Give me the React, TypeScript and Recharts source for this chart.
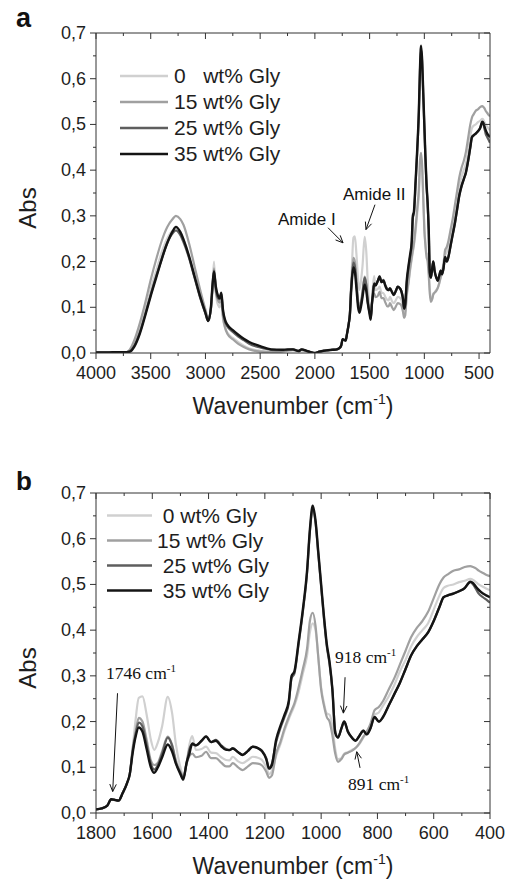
import React from "react";
import {
  LineChart,
  Line,
  XAxis,
  YAxis,
  ReferenceLine,
  ReferenceDot,
  Legend,
} from "recharts";

// FTIR spectra, absorbance vs wavenumber (cm-1)
const wavenumbers = [
  4000, 3900, 3800, 3720, 3690, 3650, 3600, 3550, 3500, 3450, 3400, 3350, 3300,
  3270, 3230, 3200, 3150, 3100, 3050, 3000, 2975, 2950, 2935, 2922, 2905, 2885,
  2870, 2855, 2840, 2820, 2800, 2750, 2700, 2650, 2600, 2500, 2400, 2300, 2250,
  2200, 2150, 2120, 2080, 2040, 2000, 1960, 1920, 1880, 1840, 1800, 1780, 1760,
  1746, 1735, 1720, 1705, 1690, 1680, 1670, 1660, 1648, 1635, 1620, 1605, 1593,
  1580, 1565, 1545, 1530, 1516, 1500, 1490, 1478, 1468, 1458, 1445, 1425, 1409,
  1391, 1374, 1355, 1338, 1326, 1314, 1295, 1279, 1260, 1243, 1225, 1210, 1195,
  1185, 1175, 1160, 1145, 1130, 1115, 1105, 1095, 1080, 1065, 1050, 1040, 1030,
  1020, 1010, 1000, 990, 980, 970, 960, 950, 940, 928, 918, 905, 891, 878, 865,
  850, 838, 825, 810, 795, 780, 760, 740, 720, 700, 680, 660, 640, 620, 600, 580,
  565, 550, 530, 510, 490, 470, 460, 450, 440, 425, 410, 400,
];

const gly0 = [
  0.001, 0.001, 0.001, 0.002, 0.006, 0.022, 0.055, 0.095, 0.14, 0.18, 0.22, 0.25, 0.268,
  0.272, 0.262, 0.248, 0.21, 0.168, 0.125, 0.088, 0.072, 0.1, 0.15, 0.2, 0.13, 0.105,
  0.1, 0.115, 0.075, 0.055, 0.045, 0.033, 0.024, 0.016, 0.01, 0.005, 0.003, 0.004, 0.006,
  0.007, 0.005, 0.007, 0.005, 0.002, 0, 0.003, 0.005, 0.006, 0.007, 0.008, 0.01, 0.016,
  0.03, 0.029, 0.027, 0.044, 0.065, 0.085, 0.14, 0.2, 0.252, 0.255, 0.215, 0.16, 0.138,
  0.155, 0.19, 0.254, 0.22, 0.15, 0.1, 0.082, 0.11, 0.15, 0.168, 0.138, 0.14, 0.145,
  0.132, 0.131, 0.122, 0.116, 0.115, 0.123, 0.113, 0.109, 0.116, 0.123, 0.121, 0.116, 0.1,
  0.085, 0.092, 0.125, 0.15, 0.18, 0.205, 0.22, 0.235, 0.265, 0.305, 0.345, 0.395, 0.415,
  0.4, 0.34, 0.275, 0.24, 0.218, 0.215, 0.19, 0.14, 0.118, 0.12, 0.13, 0.133, 0.138, 0.142, 0.15,
  0.165, 0.175, 0.19, 0.215, 0.22, 0.235, 0.255, 0.28, 0.31, 0.335, 0.365, 0.385, 0.4, 0.415, 0.445, 0.475,
  0.492, 0.497, 0.5, 0.505, 0.508, 0.512, 0.51, 0.505, 0.5, 0.495, 0.49, 0.487,
];

const gly15 = [
  0.001, 0.001, 0.001, 0.002, 0.008, 0.028, 0.065, 0.11, 0.16, 0.205, 0.245, 0.275, 0.293,
  0.3, 0.293, 0.28, 0.24, 0.19, 0.14, 0.095, 0.076, 0.095, 0.14, 0.185, 0.135, 0.115,
  0.11, 0.12, 0.08, 0.055, 0.042, 0.03, 0.02, 0.013, 0.008, 0.003, 0.002, 0.003, 0.005,
  0.006, 0.004, 0.006, 0.004, 0.002, 0, 0.003, 0.005, 0.006, 0.007, 0.008, 0.01, 0.016,
  0.03, 0.029, 0.027, 0.044, 0.065, 0.085, 0.14, 0.175, 0.208, 0.2, 0.16, 0.115, 0.105,
  0.11, 0.135, 0.167, 0.15, 0.115, 0.09, 0.08, 0.108, 0.125, 0.13, 0.122, 0.125, 0.134,
  0.12, 0.12, 0.11, 0.102, 0.102, 0.109, 0.1, 0.094, 0.102, 0.109, 0.108, 0.104, 0.09,
  0.077, 0.082, 0.13, 0.155, 0.185, 0.21, 0.225, 0.24, 0.275, 0.315, 0.36, 0.42, 0.438,
  0.41, 0.34, 0.27, 0.235, 0.21, 0.2, 0.17, 0.13, 0.112, 0.118, 0.128, 0.132, 0.136, 0.142, 0.152,
  0.167, 0.178, 0.195, 0.225, 0.232, 0.245, 0.27, 0.295, 0.325, 0.355, 0.385, 0.405, 0.42, 0.44, 0.47, 0.5,
  0.515, 0.522, 0.53, 0.533, 0.538, 0.54, 0.538, 0.535, 0.53, 0.525, 0.52, 0.518,
];

const gly25 = [
  0.001, 0.001, 0.001, 0.002, 0.004, 0.016, 0.045, 0.085, 0.128, 0.168, 0.205, 0.24, 0.262,
  0.268, 0.258, 0.242, 0.208, 0.165, 0.122, 0.086, 0.07, 0.098, 0.145, 0.18, 0.14, 0.12,
  0.118, 0.13, 0.09, 0.068, 0.058, 0.046, 0.036, 0.028, 0.02, 0.012, 0.007, 0.006, 0.007,
  0.008, 0.005, 0.008, 0.005, 0.002, 0, 0.003, 0.005, 0.006, 0.007, 0.008, 0.01, 0.016,
  0.03, 0.029, 0.027, 0.044, 0.065, 0.085, 0.135, 0.17, 0.198, 0.19, 0.15, 0.108, 0.095,
  0.105, 0.13, 0.165, 0.148, 0.11, 0.088, 0.075, 0.11, 0.14, 0.15, 0.148, 0.158, 0.168,
  0.155, 0.16, 0.148, 0.14, 0.137, 0.142, 0.133, 0.127, 0.136, 0.145, 0.142, 0.136, 0.12,
  0.098, 0.108, 0.155, 0.185, 0.21, 0.24, 0.295, 0.305, 0.37, 0.44, 0.525, 0.615, 0.665,
  0.635, 0.565, 0.495, 0.425, 0.365, 0.325, 0.27, 0.18, 0.165, 0.185, 0.2, 0.178, 0.165, 0.158, 0.168,
  0.18, 0.172, 0.185, 0.21, 0.2, 0.21, 0.235, 0.26, 0.285, 0.315, 0.345, 0.365, 0.38, 0.395, 0.42, 0.45,
  0.472, 0.476, 0.48, 0.485, 0.492, 0.505, 0.5, 0.49, 0.48, 0.472, 0.465, 0.46,
];

const gly35 = [
  0.001, 0.001, 0.002, 0.002, 0.003, 0.014, 0.042, 0.082, 0.125, 0.165, 0.205, 0.24, 0.266,
  0.276, 0.265, 0.248, 0.212, 0.168, 0.125, 0.088, 0.07, 0.1, 0.15, 0.178, 0.145, 0.125,
  0.12, 0.132, 0.095, 0.072, 0.062, 0.05, 0.04, 0.031, 0.024, 0.015, 0.008, 0.007, 0.008,
  0.008, 0.004, 0.008, 0.005, 0.002, 0, 0.003, 0.005, 0.006, 0.007, 0.008, 0.01, 0.016,
  0.03, 0.029, 0.027, 0.044, 0.065, 0.085, 0.13, 0.165, 0.187, 0.178, 0.14, 0.1, 0.088,
  0.1, 0.122, 0.15, 0.135, 0.108, 0.085, 0.073, 0.11, 0.13, 0.152, 0.148, 0.158, 0.167,
  0.155, 0.158, 0.146, 0.138, 0.138, 0.141, 0.133, 0.127, 0.136, 0.145, 0.142, 0.135, 0.118,
  0.097, 0.105, 0.16, 0.19, 0.215, 0.245, 0.3, 0.31, 0.375, 0.445, 0.53, 0.62, 0.672,
  0.64, 0.57, 0.5, 0.43, 0.37, 0.33, 0.27, 0.175, 0.165, 0.185, 0.2, 0.178, 0.165, 0.158, 0.168,
  0.18, 0.172, 0.185, 0.21, 0.2, 0.21, 0.235, 0.26, 0.285, 0.315, 0.345, 0.365, 0.38, 0.395, 0.42, 0.45,
  0.472, 0.476, 0.48, 0.485, 0.492, 0.506, 0.503, 0.495, 0.488, 0.48, 0.475, 0.472,
];

const seriesKeys = ["g0", "g15", "g25", "g35"];
const seriesColors = ["#d0d0d0", "#a0a0a0", "#5e5e5e", "#141414"];
const seriesWidths = [2.2, 2.2, 2.2, 2.4];
const legendNamesA = ["0   wt% Gly", "15 wt% Gly", "25 wt% Gly", "35 wt% Gly"];
const legendNamesB = [" 0 wt% Gly", "15 wt% Gly", " 25 wt% Gly", " 35 wt% Gly"];

const absMajor = [0, 0.1, 0.2, 0.3, 0.4, 0.5, 0.6, 0.7];
const absMinor = [0.05, 0.15, 0.25, 0.35, 0.45, 0.55, 0.65];
const wnMajorA = [4000, 3500, 3000, 2500, 2000, 1500, 1000, 500];
const wnMinorA = [3750, 3250, 2750, 2250, 1750, 1250, 750];
const wnMajorB = [1800, 1600, 1400, 1200, 1000, 800, 600, 400];
const wnMinorB = [1700, 1500, 1300, 1100, 900, 700, 500];

type Note = {
  text: string;
  sup?: string;
  serif?: boolean;
  at: [number, number];
  from: [number, number];
  to: [number, number];
};

const notesA: Note[] = [
  { text: "Amide I", at: [2337, 0.281], from: [1880, 0.274], to: [1743, 0.241] },
  { text: "Amide II", at: [1743, 0.335], from: [1451, 0.3245], to: [1533, 0.27] },
];

const notesB: Note[] = [
  { text: "1746 cm", sup: "-1", serif: true, at: [1764.5, 0.2926], from: [1723.6, 0.262], to: [1740.7, 0.047] },
  { text: "918 cm", sup: "-1", serif: true, at: [950.7, 0.3275], from: [915, 0.297], to: [921, 0.2185] },
  { text: "891 cm", sup: "-1", serif: true, at: [904.5, 0.0508], from: [861.8, 0.0987], to: [873.5, 0.134] },
];

const spectra = wavenumbers.map((wn, i) => ({
  wn,
  g0: gly0[i],
  g15: gly15[i],
  g25: gly25[i],
  g35: gly35[i],
}));

const sans = "'Liberation Sans', Arial, Helvetica, sans-serif";
const serif = "'Liberation Serif', 'Times New Roman', serif";
const axisColor = "#333";
const textColor = "#1e1e1e";

const fmtAbs = (v: number) => v.toFixed(1).replace(".", ",");

const makeTick =
  (side: "left" | "right" | "top" | "bottom", major: number[], label: boolean) =>
  (props: any) => {
    const { x, y, payload } = props;
    const v = payload.value;
    const isMajor = major.some((m) => Math.abs(m - v) < 1e-6);
    const len = isMajor ? 6 : 3;
    let line;
    if (side === "left") line = { x1: x - len, y1: y, x2: x, y2: y };
    else if (side === "right") line = { x1: x - len, y1: y, x2: x, y2: y };
    else if (side === "top") line = { x1: x, y1: y, x2: x, y2: y + len };
    else line = { x1: x, y1: y, x2: x, y2: y + len };
    return (
      <g>
        <line {...line} stroke={axisColor} strokeWidth={1} />
        {label && isMajor && side === "left" && (
          <text x={x - 10} y={y + 6} textAnchor="end" fontFamily={sans} fontSize={18} fill={textColor}>
            {fmtAbs(v)}
          </text>
        )}
        {label && isMajor && side === "bottom" && (
          <text x={x} y={y + 26} textAnchor="middle" fontFamily={sans} fontSize={18} fill={textColor}>
            {v}
          </text>
        )}
      </g>
    );
  };

const arrowShape = (p: any) => {
  const { x1, y1, x2, y2 } = p;
  if ([x1, y1, x2, y2].some((n) => typeof n !== "number")) return <g />;
  const a = Math.atan2(y2 - y1, x2 - x1);
  const h = 8;
  const w = 0.42;
  const l = `${x2 - h * Math.cos(a - w)},${y2 - h * Math.sin(a - w)}`;
  const r = `${x2 - h * Math.cos(a + w)},${y2 - h * Math.sin(a + w)}`;
  return (
    <g>
      <line x1={x1} y1={y1} x2={x2} y2={y2} stroke="#111" strokeWidth={1} />
      <polyline points={`${l} ${x2},${y2} ${r}`} fill="none" stroke="#111" strokeWidth={1} />
    </g>
  );
};

const noteText = (n: Note) => (p: any) => (
  <text
    x={p.cx}
    y={p.cy}
    fontFamily={n.serif ? serif : sans}
    fontSize={n.serif ? 17.5 : 17}
    fill="#111"
  >
    {n.text}
    {n.sup && (
      <tspan dy={-7} fontSize={11}>
        {n.sup}
      </tspan>
    )}
  </text>
);

const xTitle = (props: any) => {
  const vb = props.viewBox || {};
  const cx = vb.x + vb.width / 2;
  return (
    <text x={cx} y={vb.y + 61} textAnchor="middle" fontFamily={sans} fontSize={23} fill={textColor}>
      Wavenumber (cm
      <tspan dy={-10} fontSize={14}>-1</tspan>
      <tspan dy={10}>)</tspan>
    </text>
  );
};

const yTitle = (props: any) => {
  const vb = props.viewBox || {};
  const cy = vb.y + vb.height / 2 + 15;
  return (
    <text
      transform={`translate(36, ${cy}) rotate(-90)`}
      textAnchor="middle"
      fontFamily={sans}
      fontSize={24}
      fill={textColor}
    >
      Abs
    </text>
  );
};

const LegendBox = ({ names, gap, lineLen, textX }: { names: string[]; gap: number; lineLen: number; textX: number }) => (
  <svg width={180} height={names.length * gap + 4} style={{ display: "block", overflow: "visible" }}>
    {names.map((n, i) => {
      const cy = gap / 2 + i * gap;
      return (
        <g key={i}>
          <line x1={2} x2={2 + lineLen} y1={cy} y2={cy} stroke={seriesColors[i]} strokeWidth={2.6} />
          <text
            x={textX}
            y={cy + 7}
            fontFamily={sans}
            fontSize={21}
            fill={textColor}
            style={{ whiteSpace: "pre" }}
          >
            {n}
          </text>
        </g>
      );
    })}
  </svg>
);

type PanelProps = {
  top: number;
  height: number;
  marginTop: number;
  xAxisHeight: number;
  domain: [number, number];
  major: number[];
  minor: number[];
  notes: Note[];
  legendNames: string[];
  legendLeft: number;
  legendTop: number;
  legendGap: number;
  legendLine: number;
  legendTextX: number;
  cut?: number;
};

const Panel: React.FC<PanelProps> = (p) => {
  const data = p.cut ? spectra.filter((d) => d.wn <= p.cut!) : spectra;
  const xTicks = [...p.major, ...p.minor].sort((a, b) => b - a);
  const yTicks = [...absMajor, ...absMinor].sort((a, b) => a - b);
  return (
    <div style={{ position: "absolute", left: 0, top: p.top }}>
      <LineChart
        width={510}
        height={p.height}
        data={data}
        margin={{ top: p.marginTop - 1, right: 19, bottom: 0, left: 0 }}
      >
        <XAxis
          xAxisId="b"
          dataKey="wn"
          type="number"
          domain={p.domain}
          reversed
          allowDataOverflow
          ticks={xTicks}
          interval={0}
          height={p.xAxisHeight}
          tickSize={0}
          tickMargin={0}
          tickLine={false}
          tick={makeTick("bottom", p.major, true)}
          axisLine={{ stroke: axisColor }}
          label={{ content: xTitle }}
        />
        <XAxis
          xAxisId="t"
          orientation="top"
          dataKey="wn"
          type="number"
          domain={p.domain}
          reversed
          allowDataOverflow
          ticks={xTicks}
          interval={0}
          height={1}
          tickSize={0}
          tickMargin={0}
          tickLine={false}
          tick={makeTick("top", p.major, false)}
          axisLine={{ stroke: axisColor }}
        />
        <YAxis
          yAxisId="l"
          type="number"
          domain={[0, 0.7]}
          allowDataOverflow
          ticks={yTicks}
          interval={0}
          width={96}
          tickSize={0}
          tickMargin={0}
          tickLine={false}
          tick={makeTick("left", absMajor, true)}
          axisLine={{ stroke: axisColor }}
          label={{ content: yTitle }}
        />
        <YAxis
          yAxisId="r"
          orientation="right"
          type="number"
          domain={[0, 0.7]}
          allowDataOverflow
          ticks={yTicks}
          interval={0}
          width={1}
          tickSize={0}
          tickMargin={0}
          tickLine={false}
          tick={makeTick("right", absMajor, false)}
          axisLine={{ stroke: axisColor }}
        />
        {seriesKeys.map((k, i) => (
          <Line
            key={k}
            xAxisId="b"
            yAxisId="l"
            dataKey={k}
            type="monotone"
            stroke={seriesColors[i]}
            strokeWidth={seriesWidths[i]}
            dot={false}
            activeDot={false}
            isAnimationActive={false}
          />
        ))}
        {p.notes.map((n, i) => (
          <ReferenceLine
            key={`a${i}`}
            xAxisId="b"
            yAxisId="l"
            segment={[
              { x: n.from[0], y: n.from[1] },
              { x: n.to[0], y: n.to[1] },
            ]}
            shape={arrowShape}
          />
        ))}
        {p.notes.map((n, i) => (
          <ReferenceDot
            key={`t${i}`}
            xAxisId="b"
            yAxisId="l"
            x={n.at[0]}
            y={n.at[1]}
            r={0}
            shape={noteText(n)}
          />
        ))}
        <Legend
          layout="vertical"
          align="center"
          verticalAlign="middle"
          wrapperStyle={{ left: p.legendLeft, top: p.legendTop, width: "auto", height: "auto" }}
          content={() => (
            <LegendBox names={p.legendNames} gap={p.legendGap} lineLen={p.legendLine} textX={p.legendTextX} />
          )}
        />
      </LineChart>
    </div>
  );
};

export default function App() {
  return (
    <div style={{ position: "absolute", left: 0, top: 0, width: 510, height: 885, background: "#fff" }}>
      <Panel
        top={0}
        height={440}
        marginTop={33}
        xAxisHeight={87}
        domain={[400, 4000]}
        major={wnMajorA}
        minor={wnMinorA}
        notes={notesA}
        legendNames={legendNamesA}
        legendLeft={118}
        legendTop={63}
        legendGap={26}
        legendLine={48}
        legendTextX={56}
      />
      <Panel
        top={440}
        height={445}
        marginTop={53}
        xAxisHeight={72}
        domain={[400, 1800]}
        major={wnMajorB}
        minor={wnMinorB}
        notes={notesB}
        legendNames={legendNamesB}
        legendLeft={105}
        legendTop={63}
        legendGap={25}
        legendLine={45}
        legendTextX={52}
        cut={1800}
      />
      <svg width={510} height={885} style={{ position: "absolute", left: 0, top: 0, pointerEvents: "none" }}>
        <text x={16} y={27} fontFamily={sans} fontWeight="bold" fontSize={27} fill="#111">
          a
        </text>
        <text x={16} y={490} fontFamily={sans} fontWeight="bold" fontSize={26} fill="#111">
          b
        </text>
      </svg>
    </div>
  );
}
